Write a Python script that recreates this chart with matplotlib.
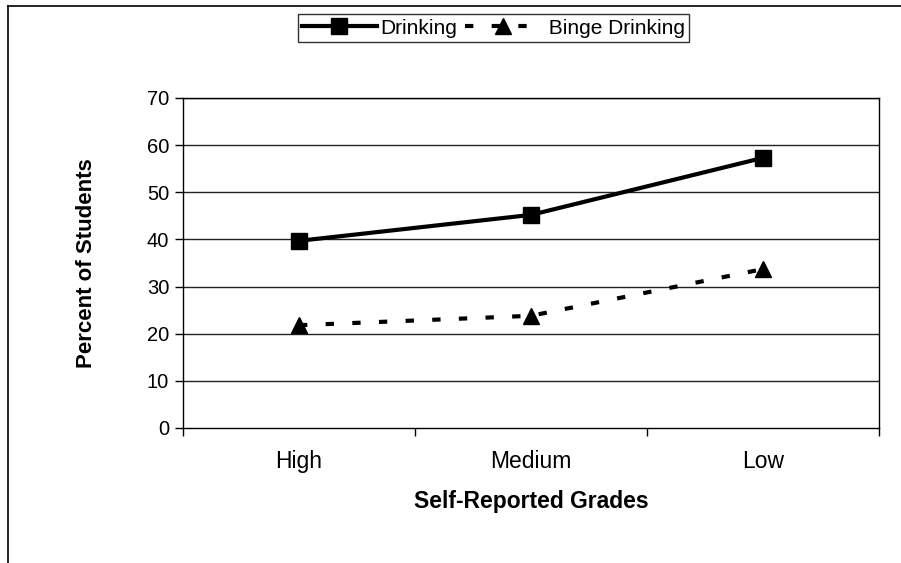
import matplotlib
matplotlib.use("Agg")
import matplotlib.pyplot as plt
from matplotlib.lines import Line2D

plt.rcParams["font.family"] = ["Liberation Sans", "DejaVu Sans"]

# datos
grados = ["High", "Medium", "Low"]
drinking = [39.7, 45.2, 57.3]
binge = [21.8, 23.8, 33.7]
yticks = [0, 10, 20, 30, 40, 50, 60, 70]

fig = plt.figure(figsize=(9.01, 5.63), dpi=100)
ax = fig.add_axes([0.2031, 0.2398, 0.7725, 0.5862])

pos = [i + 0.5 for i in range(len(grados))]

ax.plot(pos, drinking, color="black", linewidth=3, marker="s",
        markersize=11, label="Drinking")
ax.plot(pos, binge, color="black", linewidth=3, linestyle=(0, (2.0, 4.4)),
        marker="^", markersize=12, label="Binge Drinking")

ax.set_xlim(0, 3)
ax.set_ylim(0, 70)
ax.set_yticks(yticks)
ax.tick_params(axis="y", direction="out", length=6, width=1, labelsize=14.5, pad=4)
for y in yticks[1:]:
    ax.axhline(y, color="#222222", linewidth=1, zorder=0)

# ticks entre categorias, etiquetas centradas
ax.set_xticks([0, 1, 2, 3])
ax.set_xticklabels([])
ax.set_xticks(pos, minor=True)
ax.set_xticklabels(grados, minor=True)
ax.tick_params(axis="x", which="major", direction="out", length=6, width=1)
ax.tick_params(axis="x", which="minor", length=0, labelsize=16.5, pad=16)

for s in ax.spines.values():
    s.set_color("black")
    s.set_linewidth(1)

ax.set_xlabel("Self-Reported Grades", fontsize=16.5, fontweight="bold", labelpad=12)
ax.set_ylabel("Percent of Students", fontsize=16, fontweight="bold", labelpad=36)

leg = fig.legend(loc="center", bbox_to_anchor=(493.5 / 901, 1 - 28 / 563),
                 ncol=2, fontsize=15, frameon=True, fancybox=False,
                 handlelength=3.6, handletextpad=0.15, columnspacing=0.4,
                 borderpad=0.2, borderaxespad=0)
leg.get_frame().set_edgecolor("black")
leg.get_frame().set_linewidth(1)
leg.get_texts()[1].set_text(" Binge Drinking")

# marco de la figura (izquierda y arriba)
fig.add_artist(Line2D([8 / 901, 8 / 901], [0, 1 - 6 / 563], color="black",
                      linewidth=1.2, transform=fig.transFigure))
fig.add_artist(Line2D([8 / 901, 1], [1 - 6 / 563, 1 - 6 / 563], color="black",
                      linewidth=1.2, transform=fig.transFigure))

fig.savefig("out.png", dpi=100)
